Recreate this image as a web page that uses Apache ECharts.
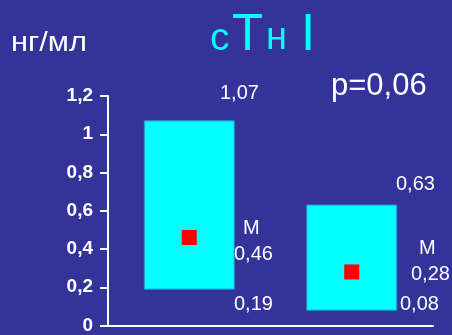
<!DOCTYPE html>
<html>
<head>
<meta charset="utf-8">
<script src="https://cdn.jsdelivr.net/npm/echarts@6/dist/echarts.min.js"></script>
<style>
  html, body { margin: 0; padding: 0; background: #333399; }
  #chart { width: 452px; height: 335px; }
</style>
</head>
<body>
<div id="chart"></div>
<script>
// Группы сравнения (подписи по оси X не выводятся)
const groups = ['1', '2'];
// Диапазон значений cTn I по группам, нг/мл
const lowValues = [0.19, 0.08];
const highValues = [1.07, 0.63];
// Медианы
const medianValues = [0.46, 0.28];
// Подписи делений оси Y
const yTickLabels = ['0', '0,2', '0,4', '0,6', '0,8', '1', '1,2'];
const pValueText = 'p=0,06';

const fmt = v => String(v).replace('.', ',');

const chart = echarts.init(document.getElementById('chart'));
const FONT = '"Liberation Sans", Arial, sans-serif';

const valueLabel = (x, y, text) => ({
  type: 'text', x, y,
  style: { text, fill: '#ffffff', font: '20px ' + FONT, textVerticalAlign: 'middle' }
});
const titlePart = (x, y, text, size) => ({
  type: 'text', x, y,
  style: { text, fill: '#00ffff', font: size + 'px ' + FONT, textVerticalAlign: 'middle' }
});

chart.setOption({
  backgroundColor: '#333399',
  animation: false,
  grid: { left: 108, right: 19, top: 96, bottom: 9 },
  xAxis: {
    type: 'category',
    data: groups,
    boundaryGap: true,
    axisLine: { show: true, lineStyle: { color: '#ffffff', width: 2 } },
    axisTick: { show: false },
    axisLabel: { show: false },
    splitLine: { show: false }
  },
  yAxis: {
    type: 'value',
    min: 0,
    max: 1.2,
    interval: 0.2,
    axisLine: { show: true, lineStyle: { color: '#ffffff', width: 2 } },
    axisTick: { show: true, length: 8, lineStyle: { color: '#ffffff', width: 2 } },
    axisLabel: {
      margin: 15,
      color: '#ffffff',
      fontFamily: FONT,
      fontWeight: 'bold',
      fontSize: 19,
      formatter: v => yTickLabels[Math.round(v / 0.2)]
    },
    splitLine: { show: false }
  },
  series: [
    {
      // Прямоугольники диапазона min–max
      type: 'custom',
      data: groups.map((g, i) => [i, lowValues[i], highValues[i]]),
      encode: { x: 0, y: [1, 2] },
      renderItem: (params, api) => {
        const x = api.value(0);
        const lo = api.coord([x, api.value(1)]);
        const hi = api.coord([x, api.value(2)]);
        const w = 90;
        return {
          type: 'rect',
          shape: { x: lo[0] - w / 2, y: hi[1], width: w, height: lo[1] - hi[1] },
          style: { fill: '#00ffff', stroke: '#2a8fd0', lineWidth: 1 }
        };
      },
      z: 2
    },
    {
      // Медианы
      type: 'scatter',
      data: groups.map((g, i) => [i, medianValues[i]]),
      symbol: 'rect',
      symbolSize: 15,
      itemStyle: { color: '#ff0000', opacity: 1 },
      z: 3
    }
  ],
  graphic: [
    {
      type: 'text', x: 11, y: 43, scaleX: 1.1,
      style: { text: 'нг/мл', fill: '#ffffff', font: '28px ' + FONT, textVerticalAlign: 'middle' }
    },
    // Заголовок: строчные буквы мельче прописных
    titlePart(210, 39, 'c', 39),
    titlePart(232, 36, 'T', 51),
    titlePart(266, 39, 'н', 38),
    titlePart(301, 36, 'I', 51),
    {
      type: 'text', x: 331, y: 86,
      style: { text: pValueText, fill: '#ffffff', font: '31px ' + FONT, textVerticalAlign: 'middle' }
    },
    // Подписи первой группы
    valueLabel(220, 93, fmt(highValues[0])),
    valueLabel(243, 228, 'M'),
    valueLabel(234, 254, fmt(medianValues[0])),
    valueLabel(234, 304, fmt(lowValues[0])),
    // Подписи второй группы
    valueLabel(396, 184, fmt(highValues[1])),
    valueLabel(419, 248, 'M'),
    valueLabel(411, 274, fmt(medianValues[1])),
    valueLabel(400, 304, fmt(lowValues[1]))
  ]
});
</script>
</body>
</html>
